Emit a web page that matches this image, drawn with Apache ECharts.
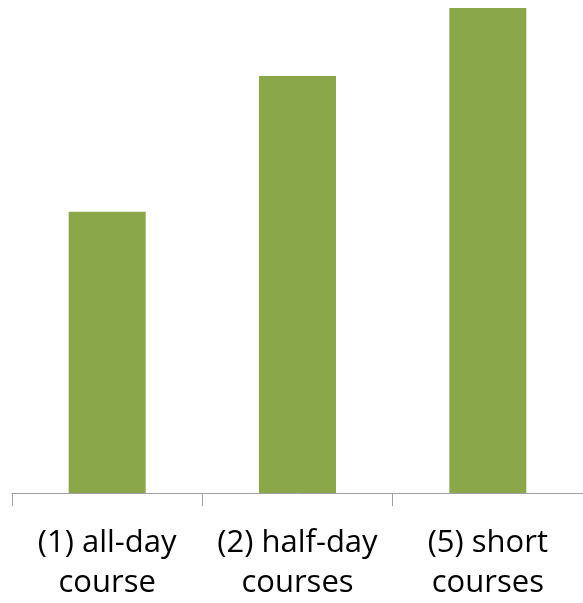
<!DOCTYPE html>
<html><head><meta charset="utf-8">
<script src="https://cdn.jsdelivr.net/npm/echarts@6/dist/echarts.min.js"></script>
<style>html,body{margin:0;padding:0;background:#fff}#c{width:583px;height:603px}</style>
</head><body><div id="c"></div>
<script>
const categories = ['(1) all-day\ncourse', '(2) half-day\ncourses', '(5) short\ncourses'];
const values = [58, 86, 100];
const chart = echarts.init(document.getElementById('c'), null, {renderer: 'canvas'});
chart.setOption({
  animation: false,
  grid: {left: 12, width: 576, top: 8, height: 491, containLabel: false},
  xAxis: {
    type: 'category', data: categories,
    axisLine: {show: true, lineStyle: {color: '#a0a0a0', width: 1}},
    axisTick: {show: true, length: 13, interval: 0, alignWithLabel: false, lineStyle: {color: '#a0a0a0', width: 1}},
    axisLabel: {fontFamily: 'Open Sans', fontSize: 31, color: '#000', lineHeight: 40, margin: 30, interval: 0}
  },
  yAxis: {type: 'value', min: 0, max: 100, show: false, splitLine: {show: false}},
  series: [{type: 'bar', data: values, barWidth: 77, itemStyle: {color: '#8aa84a'}}]
});
</script></body></html>
